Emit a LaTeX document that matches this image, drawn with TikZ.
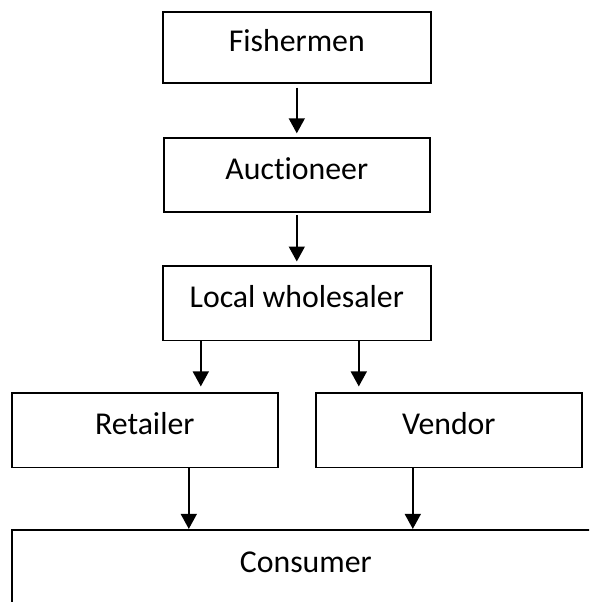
\documentclass[tikz,border=0pt]{standalone}
\usepackage{fontspec}
\setmainfont{Carlito}[Ligatures=NoCommon]
\usetikzlibrary{positioning, arrows.meta}

\begin{document}
\begin{tikzpicture}[node distance=53pt,
	stage/.style={draw, line width=1.8pt, minimum width=266pt, minimum height=74.5pt, inner sep=0pt, text height=24pt, text depth=15.5pt, font=\fontsize{31.8pt}{38pt}\selectfont},
	flow/.style={-{Triangle[width=16pt,length=15pt]}, line width=1.6pt}]

	\useasboundingbox (0,0) rectangle (589pt,-602pt);
	\clip (0,0) rectangle (589pt,-602pt);

	% nodes - chain from the boats %
	\node[stage, minimum width=268pt, minimum height=70.4pt] (fish) at (296.8pt,-47.5pt) {Fishermen};
	\node[stage, below=53.2pt of fish] (auct) {Auctioneer};
	\node[stage, minimum width=268pt, below=51.9pt of auct] (wsale) {Local wholesaler};

	% nodes - sellers and buyers %
	\node[stage, below=50.8pt of wsale, xshift=-152pt] (ret) {Retailer};
	\node[stage, below=50.8pt of wsale, xshift=152pt] (vend) {Vendor};
	\node[stage, minimum width=588pt, minimum height=76pt, below=60.5pt of ret.south west, anchor=north west] (cons) {Consumer};

	% edges %
	\coordinate (wsL) at ([xshift=-96pt]wsale.south);
	\coordinate (wsR) at ([xshift=62pt]wsale.south);
	\coordinate (retB) at ([xshift=44pt]ret.south);
	\coordinate (vendB) at ([xshift=-36pt]vend.south);

	\draw[flow, shorten <=4pt, shorten >=3.5pt] (fish.south) -- (auct.north);
	\draw[flow, shorten <=2pt, shorten >=3.5pt] (auct.south) -- (wsale.north);
	\draw[flow, shorten >=5.7pt] (wsL) -- (wsL |- ret.north);
	\draw[flow, shorten >=5.7pt] (wsR) -- (wsR |- vend.north);
	\draw[flow] (retB) -- (retB |- cons.north);
	\draw[flow] (vendB) -- (vendB |- cons.north);

\end{tikzpicture}
\end{document}
